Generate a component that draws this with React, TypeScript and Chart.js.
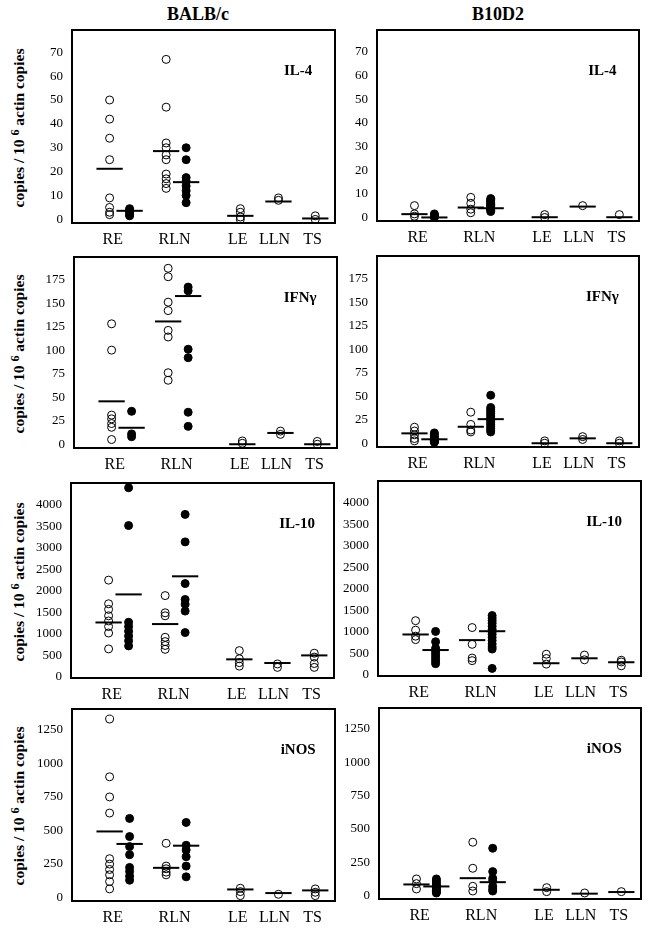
import React, { useEffect, useRef } from 'react';
import { Chart, registerables } from 'chart.js';

Chart.register(...registerables);

// ---------------- data ----------------
const STRAINS = ['BALB/c', 'B10D2'];
const CATEGORIES = ['RE', 'RLN', 'LE', 'LLN', 'TS'];
// groups in drawing order: RE open, RE filled, RLN open, RLN filled, LE, LLN, TS
const GROUPS = ['RE (open)', 'RE (filled)', 'RLN (open)', 'RLN (filled)', 'LE', 'LLN', 'TS'];
const FILLED = [false, true, false, true, false, false, false];

const MARKERS = ['IL-4', 'IFNγ', 'IL-10', 'iNOS'];
const IL4_TICKS = [0, 10, 20, 30, 40, 50, 60, 70];
const IFNG_TICKS = [0, 25, 50, 75, 100, 125, 150, 175];
const IL10_TICKS = [0, 500, 1000, 1500, 2000, 2500, 3000, 3500, 4000];
const INOS_TICKS = [0, 250, 500, 750, 1000, 1250];

const BALB_IL4 = [
  [50, 42, 34, 25, 9, 5, 3, 2],
  [4.5, 4, 3.5, 3, 2, 1.5],
  [67, 47, 32, 30, 27, 25, 19, 17, 15, 13],
  [30, 25, 17.5, 16, 14, 12, 10, 7],
  [4.5, 3, 1, 0],
  [9, 8],
  [1.5, 0],
];
const BALB_IL4_MEANS = [21.2, 3.6, 28.6, 15.6, 1.5, 7.5, 0.4];

const B10_IL4 = [
  [5, 1.5, 0.5],
  [1.5, 1, 0.5, 0],
  [8.5, 6, 3.5, 2],
  [8, 7.5, 7, 6.5, 6, 5.5, 5, 4.5, 4, 3.5, 3, 2.5],
  [1.2, 0],
  [5],
  [1.2],
];
const B10_IL4_MEANS = [1.4, 0, 4.2, 3.9, 0.1, 4.6, 0.1];

const BALB_IFNG = [
  [128, 100, 31, 27, 22, 18, 5],
  [35, 11, 8],
  [187, 178, 151, 142, 121, 114, 76, 68],
  [167, 163, 101, 92, 34, 19],
  [3.5, 1],
  [14, 10.5],
  [3, 0],
];
const BALB_IFNG_MEANS = [45.6, 17.5, 130.5, 157.5, 0, 12, 0];

const B10_IFNG = [
  [17, 13, 9, 5, 2.5],
  [11, 9, 7, 5, 4, 3, 2.5, 2, 1.5, 1],
  [33, 20, 14, 12],
  [51, 38, 36, 34, 32, 30, 28, 26, 24, 22, 20, 18, 16, 14, 12],
  [2.5, 0],
  [7, 4],
  [2.5, 0],
];
const B10_IFNG_MEANS = [10.5, 4.2, 17.5, 25.6, 0, 5.2, 0];

const BALB_IL10 = [
  [2250, 1700, 1570, 1420, 1300, 1170, 1020, 650],
  [4400, 3520, 1270, 1170, 1060, 950, 840, 720],
  [1890, 1490, 1420, 920, 820, 730, 640],
  [3780, 3140, 2170, 1800, 1690, 1530, 1030],
  [610, 420, 330, 250],
  [300, 220],
  [550, 460, 310, 220],
];
const BALB_IL10_MEANS = [1265, 1918, 1228, 2339, 407, 322, 499];

const B10_IL10 = [
  [1260, 1040, 900, 820],
  [1010, 770, 620, 560, 500, 440, 380, 320, 260],
  [1100, 710, 390, 330],
  [1380, 1320, 1260, 1200, 1130, 1060, 1000, 940, 870, 800, 720, 650, 600, 150],
  [480, 380, 250],
  [460, 350],
  [340, 300, 210],
];
const B10_IL10_MEANS = [939, 577, 808, 1015, 270, 385, 293];

const BALB_INOS = [
  [1330, 900, 750, 630, 290, 250, 210, 170, 120, 65],
  [590, 455, 380, 320, 225, 195, 160, 130],
  [405, 235, 215, 190, 170],
  [560, 390, 355, 305, 235, 155],
  [70, 45, 15],
  [25],
  [65, 40, 15],
];
const BALB_INOS_MEANS = [493, 400, 222, 387, 61, 34, 54];

const B10_INOS = [
  [125, 90, 50],
  [125, 110, 95, 80, 70, 60, 50, 40, 30, 20],
  [400, 205, 70, 35],
  [355, 180, 130, 110, 70, 50, 35],
  [60, 30],
  [20],
  [30],
];
const B10_INOS_MEANS = [84, 69, 131, 101, 44, 15, 27];

// ---------------- layout (not data) ----------------
const GROUP_POS = [1.43, 2.19, 3.58, 4.34, 6.4, 7.85, 9.25];
const CAT_POS = [1.55, 3.9, 6.3, 7.7, 9.15];
const MEAN_HALF = 0.5;
const YW = 60;
const XH = 34;
const PT = 3;
const PR = 3;
const SERIF = '"Liberation Serif", "Times New Roman", Times, serif';

type Frame = { l: number; r: number; t: number; b: number };
type PanelSpec = {
  frame: Frame;
  values: number[][];
  means: number[];
  ticks: number[];
  range: [number, number];
  label: string;
};

const ROW_RANGES: [number, number][] = [
  [-1.5, 79.3],
  [-4, 199],
  [-27, 4510],
  [-25, 1405],
];
const ROW_TICKS = [IL4_TICKS, IFNG_TICKS, IL10_TICKS, INOS_TICKS];
const LEFT_DATA = [BALB_IL4, BALB_IFNG, BALB_IL10, BALB_INOS];
const LEFT_MEANS = [BALB_IL4_MEANS, BALB_IFNG_MEANS, BALB_IL10_MEANS, BALB_INOS_MEANS];
const RIGHT_DATA = [B10_IL4, B10_IFNG, B10_IL10, B10_INOS];
const RIGHT_MEANS = [B10_IL4_MEANS, B10_IFNG_MEANS, B10_IL10_MEANS, B10_INOS_MEANS];

const LEFT_FRAMES: Frame[] = [
  { l: 72, r: 337, t: 28, b: 223 },
  { l: 74, r: 339, t: 255, b: 448 },
  { l: 71, r: 336, t: 481, b: 678 },
  { l: 72, r: 337, t: 707, b: 901 },
];
const RIGHT_FRAMES: Frame[] = [
  { l: 377, r: 641, t: 28, b: 221 },
  { l: 377, r: 641, t: 254, b: 447 },
  { l: 378, r: 643, t: 479, b: 676 },
  { l: 379, r: 643, t: 706, b: 899 },
];

const framePlugin = {
  id: 'frameLabel',
  afterDatasetsDraw(chart: any, _args: any, opts: any) {
    const { ctx, chartArea: a } = chart;
    ctx.save();
    ctx.strokeStyle = '#000';
    ctx.lineWidth = 2;
    ctx.strokeRect(a.left, a.top, a.right - a.left, a.bottom - a.top);
    ctx.fillStyle = '#000';
    ctx.font = `bold 15px ${SERIF}`;
    ctx.textAlign = 'center';
    ctx.textBaseline = 'middle';
    ctx.fillText(opts.text, a.left + 0.86 * (a.right - a.left), a.top + 41);
    ctx.restore();
  },
};

function Panel({ spec }: { spec: PanelSpec }) {
  const ref = useRef<HTMLCanvasElement | null>(null);
  const { frame, values, means, ticks, range, label } = spec;
  const w = frame.r - frame.l + YW + PR;
  const h = frame.b - frame.t + PT + XH;

  useEffect(() => {
    const datasets: any[] = [];
    values.forEach((vals, g) => {
      datasets.push({
        label: GROUPS[g],
        data: vals.map((v) => ({ x: GROUP_POS[g], y: v })),
        pointRadius: 4,
        pointBorderWidth: 1,
        pointBorderColor: '#000',
        pointBackgroundColor: FILLED[g] ? '#000' : 'rgba(255,255,255,0)',
        showLine: false,
        clip: false,
      });
    });
    means.forEach((m, g) => {
      datasets.push({
        label: GROUPS[g] + ' mean',
        data: [
          { x: GROUP_POS[g] - MEAN_HALF, y: m },
          { x: GROUP_POS[g] + MEAN_HALF, y: m },
        ],
        showLine: true,
        borderColor: '#000',
        borderWidth: 2,
        pointRadius: 0,
        fill: false,
        clip: false,
      });
    });
    const chart = new Chart(ref.current as HTMLCanvasElement, {
      type: 'scatter',
      data: { datasets },
      options: {
        responsive: false,
        animation: false,
        devicePixelRatio: 1,
        layout: { padding: { top: PT, right: PR, left: 0, bottom: 0 } },
        plugins: {
          legend: { display: false },
          tooltip: { enabled: false },
          frameLabel: { text: label },
        } as any,
        scales: {
          x: {
            type: 'linear',
            min: 0,
            max: 10,
            grid: { display: false, drawTicks: false },
            border: { display: false },
            afterBuildTicks: (s: any) => {
              s.ticks = CAT_POS.map((v) => ({ value: v }));
            },
            afterFit: (s: any) => {
              s.height = XH;
              s.paddingLeft = 0;
              s.paddingRight = 0;
              s.paddingTop = 0;
              s.paddingBottom = 0;
            },
            ticks: {
              autoSkip: false,
              maxRotation: 0,
              minRotation: 0,
              padding: 7,
              color: '#000',
              font: { family: SERIF, size: 16 },
              callback: (_v: any, i: number) => CATEGORIES[i],
            },
          },
          y: {
            type: 'linear',
            min: range[0],
            max: range[1],
            grid: { display: false, drawTicks: false },
            border: { display: false },
            afterBuildTicks: (s: any) => {
              s.ticks = ticks.map((v) => ({ value: v }));
            },
            afterFit: (s: any) => {
              s.width = YW;
              s.paddingLeft = 0;
              s.paddingRight = 0;
              s.paddingTop = 0;
              s.paddingBottom = 0;
            },
            ticks: {
              autoSkip: false,
              padding: 9,
              color: '#000',
              font: { family: SERIF, size: 13 },
              callback: (v: any) => String(v),
            },
          },
        },
      } as any,
      plugins: [framePlugin as any],
    });
    return () => chart.destroy();
  }, []);

  return (
    <canvas
      ref={ref}
      width={w}
      height={h}
      style={{ position: 'absolute', left: frame.l - YW, top: frame.t - PT, width: w, height: h }}
    />
  );
}

export default function App() {
  const panels: PanelSpec[] = [];
  for (let r = 0; r < 4; r++) {
    panels.push({
      frame: LEFT_FRAMES[r],
      values: LEFT_DATA[r],
      means: LEFT_MEANS[r],
      ticks: ROW_TICKS[r],
      range: ROW_RANGES[r],
      label: MARKERS[r],
    });
    panels.push({
      frame: RIGHT_FRAMES[r],
      values: RIGHT_DATA[r],
      means: RIGHT_MEANS[r],
      ticks: ROW_TICKS[r],
      range: ROW_RANGES[r],
      label: MARKERS[r],
    });
  }
  const headerStyle: React.CSSProperties = {
    position: 'absolute',
    transform: 'translate(-50%, -50%)',
    font: `bold 18px ${SERIF}`,
    lineHeight: 1,
    whiteSpace: 'nowrap',
    color: '#000',
  };
  return (
    <div style={{ position: 'absolute', left: 0, top: 0, width: 652, height: 933, background: '#fff', overflow: 'hidden' }}>
      <div style={{ ...headerStyle, left: 198, top: 14 }}>{STRAINS[0]}</div>
      <div style={{ ...headerStyle, left: 498, top: 14 }}>{STRAINS[1]}</div>
      {LEFT_FRAMES.map((f, i) => (
        <div
          key={'yt' + i}
          style={{
            position: 'absolute',
            left: 18,
            top: (f.t + f.b) / 2 + 2,
            transform: 'translate(-50%, -50%) rotate(-90deg)',
            font: `bold 15.5px ${SERIF}`,
            lineHeight: 1,
            whiteSpace: 'nowrap',
            color: '#000',
          }}
        >
          copies / 10 <sup style={{ fontSize: '12px', verticalAlign: '0.45em' }}>6</sup> actin copies
        </div>
      ))}
      {panels.map((p, i) => (
        <Panel key={i} spec={p} />
      ))}
    </div>
  );
}
